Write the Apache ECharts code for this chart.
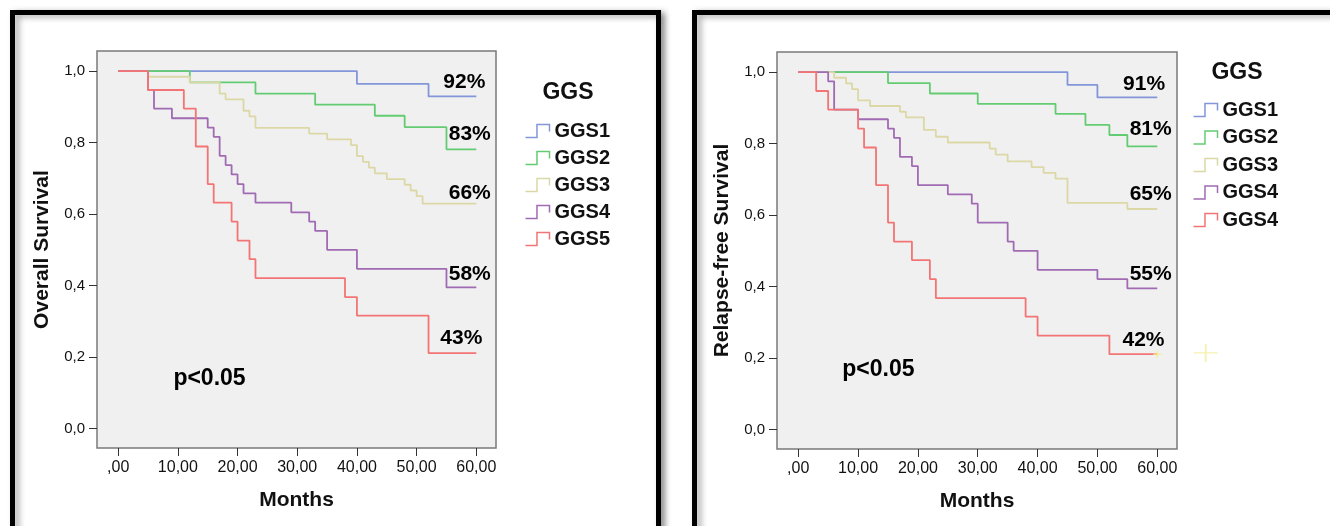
<!DOCTYPE html>
<html><head><meta charset="utf-8">
<script src="https://cdn.jsdelivr.net/npm/echarts@6/dist/echarts.min.js"></script>
<style>html,body{margin:0;padding:0;background:#fff}#c{width:1330px;height:526px}</style>
</head><body><div id="c"></div>
<script>
// ---------- data ----------
const osLegendLabels  = ['GGS1','GGS2','GGS3','GGS4','GGS5'];
const rfsLegendLabels = ['GGS1','GGS2','GGS3','GGS4','GGS4'];
const xTickValues = [0,10,20,30,40,50,60];
const xTickLabels = [',00','10,00','20,00','30,00','40,00','50,00','60,00'];
const yTickValues = [0,0.2,0.4,0.6,0.8,1.0];
const yTickLabels = ['0,0','0,2','0,4','0,6','0,8','1,0'];

// Overall survival (months, survival after step)
const osGGS1 = [[0,1],[40,0.964],[52,0.929],[60,0.929]];
const osGGS2 = [[0,1],[12,0.968],[23,0.937],[33,0.906],[43,0.875],[48,0.843],[55,0.781],[60,0.781]];
const osGGS3 = [[0,1],[5,0.984],[12,0.968],[17,0.937],[18,0.921],[21,0.889],[22,0.873],[23,0.841],[32,0.825],[35,0.809],[39,0.793],[40,0.762],[41,0.746],[42,0.730],[43,0.714],[45,0.698],[48,0.682],[49,0.666],[50,0.650],[51,0.629],[60,0.629]];
const osGGS4 = [[0,1],[5,0.947],[6,0.895],[9,0.868],[15,0.842],[16,0.816],[17,0.763],[18,0.737],[19,0.711],[20,0.684],[21,0.658],[23,0.632],[29,0.605],[32,0.579],[33,0.553],[35,0.500],[40,0.447],[55,0.395],[60,0.395]];
const osGGS5 = [[0,1],[5,0.947],[11,0.895],[13,0.789],[15,0.684],[16,0.632],[19,0.579],[20,0.526],[22,0.474],[23,0.421],[38,0.368],[40,0.316],[52,0.211],[60,0.211]];

// Relapse-free survival
const rfsGGS1 = [[0,1],[45,0.964],[50,0.929],[60,0.929]];
const rfsGGS2 = [[0,1],[15,0.969],[22,0.940],[30,0.911],[43,0.883],[48,0.852],[52,0.824],[55,0.792],[60,0.792]];
const rfsGGS3 = [[0,1],[6,0.984],[8,0.968],[9,0.952],[10,0.921],[12,0.905],[17,0.889],[18,0.873],[21,0.838],[23,0.819],[25,0.803],[32,0.786],[33,0.769],[35,0.750],[39,0.734],[41,0.718],[43,0.702],[45,0.634],[55,0.617],[60,0.617]];
const rfsGGS4 = [[0,1],[5,0.974],[6,0.895],[10,0.868],[15,0.842],[16,0.816],[17,0.763],[19,0.737],[20,0.684],[25,0.658],[29,0.632],[30,0.579],[35,0.526],[36,0.500],[40,0.447],[50,0.421],[55,0.395],[60,0.395]];
const rfsGGS5 = [[0,1],[3,0.947],[5,0.895],[10,0.842],[11,0.789],[13,0.684],[15,0.579],[16,0.526],[19,0.474],[22,0.421],[23,0.368],[38,0.316],[40,0.263],[52,0.211],[60,0.211]];

// annotation texts placed in data space [month, survival, text]
const osNotes  = [[58.0,0.969,'92%'],[58.9,0.824,'83%'],[58.9,0.659,'66%'],[58.9,0.432,'58%'],[57.5,0.252,'43%']];
const rfsNotes = [[57.8,0.966,'91%'],[58.9,0.841,'81%'],[58.9,0.659,'65%'],[58.9,0.435,'55%'],[57.7,0.249,'42%']];
const osP  = [15.3,0.140,'p<0.05'];
const rfsP = [13.4,0.168,'p<0.05'];
const rfsCensor = [[60,0.211]];
const rfsStrayCross = [[68.1,0.215]];

// ---------- styling ----------
const colors = ['#8296d9','#63cc72','#dcd8a6','#a06bb3','#f37474'];
const FONT = '"Liberation Sans", Arial, Helvetica, sans-serif';
const stepIcon = 'path://M0,26L22,26L22,2L46,2L46,15';
const osSeries = [osGGS1,osGGS2,osGGS3,osGGS4,osGGS5];
const rfsSeries = [rfsGGS1,rfsGGS2,rfsGGS3,rfsGGS4,rfsGGS5];
const osNames = osLegendLabels.map((l,i)=>'os'+i);
const rfsNames = rfsLegendLabels.map((l,i)=>'rfs'+i);

function lookup(vals, labels, v){
  const i = vals.findIndex(t => Math.abs(t - v) < 1e-9);
  return i >= 0 ? labels[i] : '';
}
function xAxisCfg(idx){
  return {
    type:'value', gridIndex:idx, min:-3.55, max:63.3, position:'bottom',
    axisLine:{show:false, onZero:false}, splitLine:{show:false},
    axisTick:{show:true, customValues:xTickValues, length:8, lineStyle:{color:'#333', width:1}},
    axisLabel:{customValues:xTickValues, formatter:v=>lookup(xTickValues,xTickLabels,v), fontSize:16, color:'#111', margin:12, fontFamily:FONT},
    name:'Months', nameLocation:'middle', nameGap:42,
    nameTextStyle:{fontWeight:'bold', fontSize:21, color:'#111', fontFamily:FONT}
  };
}
function yAxisCfg(idx, name){
  return {
    type:'value', gridIndex:idx, min:-0.054, max:1.056, position:'left',
    axisLine:{show:false, onZero:false}, splitLine:{show:false},
    axisTick:{show:true, customValues:yTickValues, length:8, lineStyle:{color:'#333', width:1}},
    axisLabel:{customValues:yTickValues, formatter:v=>lookup(yTickValues,yTickLabels,v), fontSize:15, color:'#111', margin:12, fontFamily:FONT},
    name:name, nameLocation:'middle', nameGap:44,
    nameTextStyle:{fontWeight:'bold', fontSize:21, color:'#111', fontFamily:FONT}
  };
}
function curveSeries(datas, names, idx){
  return datas.map((d,i)=>({
    type:'line', name:names[i], xAxisIndex:idx, yAxisIndex:idx, step:'end',
    data:d, showSymbol:false, symbol:'none', color:colors[i],
    lineStyle:{color:colors[i], width:1.8}, z:3, silent:true
  }));
}
function legendCfg(names, labels, left, top, gap){
  return {
    orient:'vertical', left:left, top:top, padding:0, itemWidth:24, itemHeight:13, itemGap:gap,
    symbolKeepAspect:false, selectedMode:false,
    data:names.map((n,i)=>({name:n, icon:stepIcon, itemStyle:{color:'none', borderColor:colors[i], borderWidth:1.5}})),
    formatter:name=>labels[names.indexOf(name)],
    textStyle:{fontFamily:FONT, fontWeight:'bold', fontSize:20, lineHeight:20, color:'#111'}
  };
}

const crossPath = 'path://M0,9L24,9M12,0L12,18';
const baseGraphics = [
  {type:'rect', z:-10, shape:{x:12.5,y:12.5,width:646,height:600},
   style:{fill:'#fff', stroke:'#000', lineWidth:5, shadowBlur:6, shadowOffsetX:4, shadowOffsetY:2, shadowColor:'rgba(0,0,0,0.35)'}},
  {type:'rect', z:-10, shape:{x:694.5,y:12.5,width:700,height:600},
   style:{fill:'#fff', stroke:'#000', lineWidth:5, shadowBlur:6, shadowOffsetX:4, shadowOffsetY:2, shadowColor:'rgba(0,0,0,0.35)'}},
  {type:'text', x:568, y:93, z:10, style:{text:'GGS', font:'bold 23px '+FONT, fill:'#111', align:'center', verticalAlign:'middle'}},
  {type:'text', x:1237, y:73, z:10, style:{text:'GGS', font:'bold 23px '+FONT, fill:'#111', align:'center', verticalAlign:'middle'}}
];

const option = {
  animation:false,
  backgroundColor:'#fff',
  textStyle:{fontFamily:FONT},
  graphic:baseGraphics,
  grid:[
    {left:97, top:51, width:399, height:397, show:true, backgroundColor:'#f0f0f0', borderColor:'#7a7a7a', borderWidth:1.5},
    {left:777, top:52, width:400, height:397, show:true, backgroundColor:'#f0f0f0', borderColor:'#7a7a7a', borderWidth:1.5}
  ],
  xAxis:[xAxisCfg(0), xAxisCfg(1)],
  yAxis:[yAxisCfg(0,'Overall Survival'), yAxisCfg(1,'Relapse-free Survival')],
  legend:[
    legendCfg(osNames, osLegendLabels, 523, 121, 7),
    legendCfg(rfsNames, rfsLegendLabels, 1191, 100, 7.5)
  ],
  series:[].concat(
    curveSeries(osSeries, osNames, 0),
    curveSeries(rfsSeries, rfsNames, 1),
    [{type:'scatter', xAxisIndex:1, yAxisIndex:1, data:rfsCensor, symbol:crossPath, symbolSize:[8,7], clip:false, silent:true, z:6,
      itemStyle:{color:'none', borderColor:'#f2ee8a', borderWidth:1.5}},
     {type:'scatter', xAxisIndex:1, yAxisIndex:1, data:rfsStrayCross, symbol:crossPath, symbolSize:[24,18], clip:false, silent:true, z:6,
      itemStyle:{color:'none', borderColor:'#f2ee9a', borderWidth:1.5}}]
  )
};
const chart = echarts.init(document.getElementById('c'), null, {renderer:'canvas'});
chart.setOption(option);

// annotation texts positioned through the axes' own scales
function noteTexts(notes, p, idx){
  const all = notes.map(n=>({n:n, size:21})).concat([{n:p, size:23}]);
  return all.map(o=>{
    const pt = chart.convertToPixel({gridIndex:idx}, [o.n[0], o.n[1]]);
    return {type:'text', x:pt[0], y:pt[1], z:20,
      style:{text:o.n[2], font:'bold '+o.size+'px '+FONT, fill:'#000', align:'center', verticalAlign:'middle'}};
  });
}
chart.setOption({graphic: baseGraphics.concat(noteTexts(osNotes, osP, 0), noteTexts(rfsNotes, rfsP, 1))});
</script></body></html>
